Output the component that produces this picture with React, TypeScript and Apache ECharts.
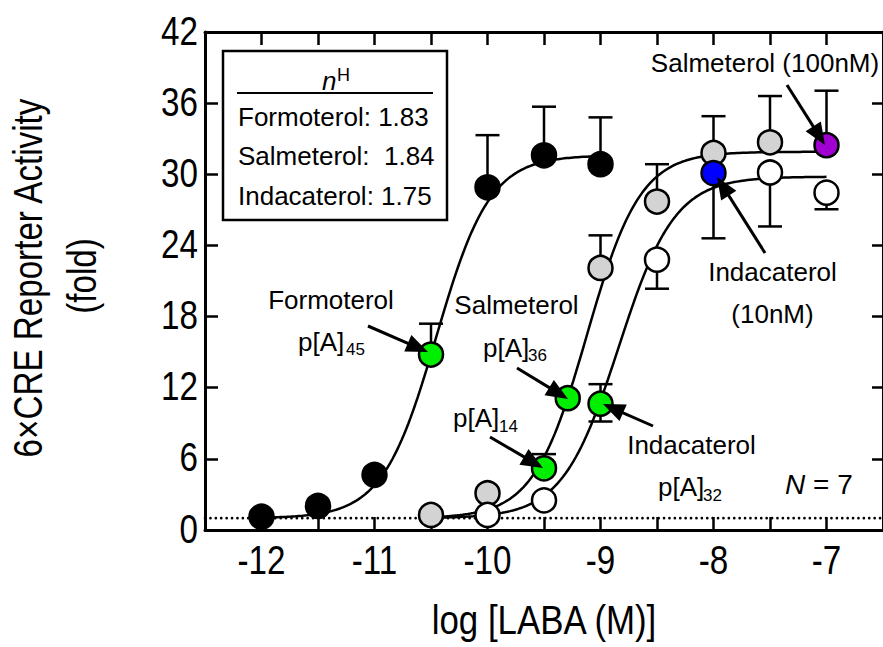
import React, { useEffect, useRef } from 'react';
import * as echarts from 'echarts';

const SANS = "'Liberation Sans', Arial, Helvetica, sans-serif";
// horizontal squeeze used for the condensed axis lettering
const CONDENSE = 0.83;

// Hill fits (bottom, top, logEC50, slope) for each agonist
const drugNames = ['Formoterol', 'Salmeterol', 'Indacaterol'];
const hillSlopes = [1.83, 1.84, 1.75];
const logEC50s = [-10.453, -9.12, -8.84];
const fitBottoms = [1, 1, 1];
const fitTops = [31.6, 31.9, 29.8];
const curveRanges = [[-12, -9], [-10.5, -7], [-10.5, -7]];

// Mean responses [log M, fold]
const formoterolPts = [[-12, 1.12], [-11.5, 2.03], [-11, 4.65], [-10, 28.9], [-9.5, 31.6], [-9, 30.85]];
const salmeterolPts = [[-10.5, 1.27], [-10, 3.1], [-9, 22.1], [-8.5, 27.7], [-8, 31.8], [-7.5, 32.7]];
const indacaterolPts = [[-10, 1.27], [-9.5, 2.5], [-8.5, 22.8], [-7.5, 30.15], [-7, 28.45]];
// Equi-effective concentrations highlighted in green: p[A]45, p[A]14, p[A]32
const equiEffectivePts = [[-10.5, 14.8], [-9.5, 5.2], [-9, 10.65]];
const pA36LogConc = -9.29;
const salmeterol100nM = [[-7, 32.45]];
const indacaterol10nM = [[-8, 30.1]];

// SEM bars [log M, mean, end of bar]
const formoterolErr = [[-10.5, 14.8, 17.4], [-10, 28.9, 33.3], [-9.5, 31.6, 35.7], [-9, 30.85, 34.8]];
const salmeterolErr = [[-9.5, 5.2, 6.4], [-9, 22.1, 24.85], [-8.5, 27.7, 30.85], [-8, 31.8, 34.9], [-7.5, 32.7, 36.6], [-7, 32.45, 37.05]];
const indacaterolErr = [[-9, 10.65, 12.3], [-9, 10.65, 9.15], [-8.5, 22.8, 20.35], [-8, 30.1, 24.6], [-7.5, 30.15, 25.6], [-7, 28.45, 27.05]];

const basalLevel = 1;
const xMin = -12.5;
const xMax = -6.5;
const yMin = 0;
const yMax = 42;
const xTickLabels = [-12, -11, -10, -9, -8, -7];
const yTickLabels = [0, 6, 12, 18, 24, 30, 36, 42];

function hill(i: number, x: number) {
  return fitBottoms[i] + (fitTops[i] - fitBottoms[i]) / (1 + Math.pow(10, (logEC50s[i] - x) * hillSlopes[i]));
}

function curve(i: number) {
  const [a, b] = curveRanges[i];
  const pts: number[][] = [];
  const n = 150;
  for (let k = 0; k <= n; k++) {
    const x = a + ((b - a) * k) / n;
    pts.push([x, hill(i, x)]);
  }
  return pts;
}

function arrow(x1: number, y1: number, x2: number, y2: number) {
  const dx = x2 - x1;
  const dy = y2 - y1;
  const len = Math.hypot(dx, dy);
  const ux = dx / len;
  const uy = dy / len;
  const headLen = 22;
  const halfW = 9;
  const bx = x2 - ux * headLen;
  const by = y2 - uy * headLen;
  return [
    { type: 'line', z: 100, shape: { x1, y1, x2: bx + ux * 2, y2: by + uy * 2 }, style: { stroke: '#000', lineWidth: 3 } },
    {
      type: 'polygon', z: 100,
      shape: { points: [[x2, y2], [bx - uy * halfW, by + ux * halfW], [bx + uy * halfW, by - ux * halfW]] },
      style: { fill: '#000' },
    },
  ];
}

function label(text: string, x: number, y: number, size = 26, align = 'center', extra: any = {}) {
  return {
    type: 'text', z: 100, x, y,
    style: { text, fontSize: size, fontFamily: SANS, fill: '#000', align, verticalAlign: 'middle', ...extra },
  };
}

const errRender = (params: any, api: any) => {
  const x = api.value(0);
  const p0 = api.coord([x, api.value(1)]);
  const p1 = api.coord([x, api.value(2)]);
  return {
    type: 'group',
    children: [
      { type: 'line', shape: { x1: p0[0], y1: p0[1], x2: p1[0], y2: p1[1] }, style: { stroke: '#000', lineWidth: 2.5 } },
      { type: 'line', shape: { x1: p1[0] - 12, y1: p1[1], x2: p1[0] + 12, y2: p1[1] }, style: { stroke: '#000', lineWidth: 2.5 } },
    ],
  };
};

// condensed tick numbers placed through the axis scales
const xLabelRender = (params: any, api: any) => {
  const v = api.value(0);
  const p = api.coord([v, yMin]);
  return {
    type: 'text', x: p[0], y: p[1] + 30, scaleX: CONDENSE,
    style: { text: String(v), fontSize: 40, fontFamily: SANS, fill: '#000', align: 'center', verticalAlign: 'middle' },
  };
};
const yLabelRender = (params: any, api: any) => {
  const v = api.value(1);
  const p = api.coord([xMin, v]);
  return {
    type: 'text', x: p[0] - 7, y: p[1] - 1, scaleX: CONDENSE,
    style: { text: String(v), fontSize: 40, fontFamily: SANS, fill: '#000', align: 'right', verticalAlign: 'middle' },
  };
};

function pointSeries(name: string, data: number[][], color: string) {
  return {
    name, type: 'scatter', data, z: 5, symbol: 'circle', symbolSize: 24,
    itemStyle: { color, borderColor: '#000', borderWidth: 2.5, opacity: 1 },
  };
}

export default function App() {
  const ref = useRef<HTMLDivElement>(null);

  useEffect(() => {
    if (!ref.current) return;
    const chart = echarts.init(ref.current, undefined, { renderer: 'svg' });

    const axisLineStyle = { color: '#000', width: 3 };
    const tickStyle = { color: '#000', width: 2.5 };

    const legendRows = drugNames.map((d, i) => (d === 'Salmeterol' ? `${d}:  ${hillSlopes[i].toFixed(2)}` : `${d}: ${hillSlopes[i].toFixed(2)}`));

    const option: any = {
      animation: false,
      backgroundColor: '#fff',
      grid: { left: 205, top: 32, width: 679, height: 498, containLabel: false },
      xAxis: [
        {
          type: 'value', min: xMin, max: xMax, interval: 0.5, position: 'bottom',
          axisLine: { onZero: false, lineStyle: axisLineStyle },
          axisTick: { inside: true, length: 13, lineStyle: tickStyle },
          axisLabel: { show: false },
          splitLine: { show: false },
        },
        {
          type: 'value', min: xMin, max: xMax, interval: 0.5, position: 'top',
          axisLine: { onZero: false, lineStyle: axisLineStyle },
          axisTick: { inside: true, length: 13, lineStyle: tickStyle },
          axisLabel: { show: false },
          splitLine: { show: false },
        },
      ],
      yAxis: [
        {
          type: 'value', min: yMin, max: yMax, interval: 6, position: 'left',
          axisLine: { onZero: false, lineStyle: axisLineStyle },
          axisTick: { inside: true, length: 13, lineStyle: tickStyle },
          axisLabel: { show: false },
          splitLine: { show: false },
        },
        {
          type: 'value', min: yMin, max: yMax, interval: 6, position: 'right',
          axisLine: { onZero: false, lineStyle: axisLineStyle },
          axisTick: { inside: true, length: 11, lineStyle: tickStyle },
          axisLabel: { show: false },
          splitLine: { show: false },
        },
      ],
      series: [
        {
          name: 'basal', type: 'line', data: [[xMin, basalLevel], [xMax, basalLevel]], showSymbol: false, z: 1,
          lineStyle: { color: '#000', width: 2.6, type: [0.1, 5.3], cap: 'round' },
        },
        ...drugNames.map((d, i) => ({
          name: `${d} fit`, type: 'line', data: curve(i), showSymbol: false, z: 2,
          lineStyle: { color: '#000', width: 2.5 },
        })),
        ...[formoterolErr, salmeterolErr, indacaterolErr].map((e, i) => ({
          name: `${drugNames[i]} SEM`, type: 'custom', data: e, z: 3, renderItem: errRender,
          encode: { x: 0, y: [1, 2] },
        })),
        pointSeries('Formoterol', formoterolPts, '#000000'),
        pointSeries('Salmeterol', salmeterolPts, '#d3d3d3'),
        pointSeries('Indacaterol', indacaterolPts, '#ffffff'),
        pointSeries('p[A]', [...equiEffectivePts, [pA36LogConc, hill(1, pA36LogConc)]], '#00ee00'),
        pointSeries('Indacaterol (10nM)', indacaterol10nM, '#0000ff'),
        pointSeries('Salmeterol (100nM)', salmeterol100nM, '#a000d2'),
        {
          name: 'x tick labels', type: 'custom', clip: false, z: 6, renderItem: xLabelRender,
          data: xTickLabels.map((v) => [v, yMin]), encode: { x: 0, y: 1 },
        },
        {
          name: 'y tick labels', type: 'custom', clip: false, z: 6, renderItem: yLabelRender,
          data: yTickLabels.map((v) => [xMin, v]), encode: { x: 0, y: 1 },
        },
      ],
      graphic: [
        // axis titles
        {
          type: 'text', z: 100, x: 544, y: 620, scaleX: 0.85,
          style: { text: 'log [LABA (M)]', fontSize: 41, fontFamily: SANS, fill: '#000', align: 'center', verticalAlign: 'middle' },
        },
        {
          type: 'text', z: 100, x: 28, y: 278, rotation: Math.PI / 2, scaleX: CONDENSE,
          style: { text: '6\u00d7CRE Reporter Activity', fontSize: 40, fontFamily: SANS, fill: '#000', align: 'center', verticalAlign: 'middle' },
        },
        {
          type: 'text', z: 100, x: 82, y: 276, rotation: Math.PI / 2, scaleX: CONDENSE,
          style: { text: '(fold)', fontSize: 40, fontFamily: SANS, fill: '#000', align: 'center', verticalAlign: 'middle' },
        },

        // Hill slope box
        { type: 'rect', z: 100, shape: { x: 223, y: 51, width: 224, height: 169 }, style: { fill: '#fff', stroke: '#000', lineWidth: 2.5 } },
        { type: 'line', z: 100, shape: { x1: 237, y1: 93, x2: 433, y2: 93 }, style: { stroke: '#000', lineWidth: 2 } },
        label('n', 322, 81, 26, 'left', { fontStyle: 'italic' }),
        label('H', 337, 75, 18, 'left'),
        label(legendRows[0], 238, 117, 26, 'left'),
        label(legendRows[1], 238, 156, 26, 'left'),
        label(legendRows[2], 238, 196, 26, 'left'),

        label('Formoterol', 331, 299.5),
        label('p[A]', 298, 342, 26, 'left'),
        label('45', 346, 349.5, 17, 'left'),

        label('Salmeterol', 516.5, 305),
        label('p[A]', 483, 348, 26, 'left'),
        label('36', 528, 355.5, 17, 'left'),

        label('p[A]', 453, 417.5, 26, 'left'),
        label('14', 499, 426.5, 17, 'left'),

        label('Indacaterol', 691.5, 445),
        label('p[A]', 658, 486.5, 26, 'left'),
        label('32', 703, 495, 17, 'left'),

        label('Indacaterol', 772.5, 272),
        label('(10nM)', 772.5, 313.5),
        label('Salmeterol (100nM)', 765, 62.5),

        {
          type: 'text', z: 100, x: 785, y: 484,
          style: {
            text: '{i|N} = 7', fontSize: 28, fontFamily: SANS, fill: '#000', align: 'left', verticalAlign: 'middle',
            rich: { i: { fontStyle: 'italic', fontSize: 28, fontFamily: SANS } },
          },
        },

        ...arrow(368, 326, 428, 352),
        ...arrow(517, 368, 568, 399),
        ...arrow(490, 437, 543, 468),
        ...arrow(653, 426, 603, 404),
        ...arrow(765, 253, 717, 177),
        ...arrow(787, 85, 825, 145),
      ],
    };

    chart.setOption(option);
    return () => chart.dispose();
  }, []);

  return <div ref={ref} style={{ position: 'fixed', left: 0, top: 0, width: 883, height: 647, background: '#fff' }} />;
}
